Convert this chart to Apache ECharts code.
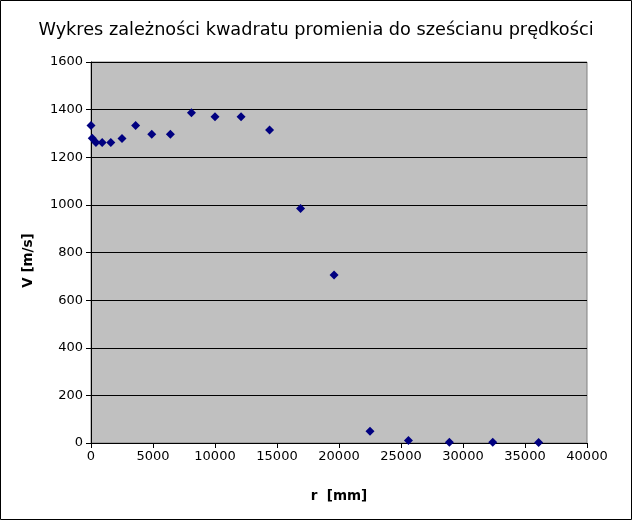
<!DOCTYPE html>
<html>
<head>
<meta charset="utf-8">
<script src="https://cdn.jsdelivr.net/npm/echarts@6/dist/echarts.min.js"></script>
<style>
html,body{margin:0;padding:0;background:#fff;}
#c{width:632px;height:520px;}
</style>
</head>
<body>
<div id="c"></div>
<script>
var titleText = 'Wykres zależności kwadratu promienia do sześcianu prędkości';
var xName = 'r  [mm]';
var yName = 'V [m/s]';
var rSquared = [0, 100, 400, 900, 1600, 2500, 3600, 4900, 6400, 8100, 10000, 12100, 14400, 16900, 19600, 22500, 25600, 28900, 32400, 36100];
var velocity = [1333, 1280, 1262, 1262, 1262, 1279, 1333, 1297, 1297, 1387, 1370, 1370, 1314, 985, 706, 49, 10, 3, 3, 2];

var pts = rSquared.map(function (x, i) { return [x, velocity[i]]; });
function plain(v) { return String(v); }

var chart = echarts.init(document.getElementById('c'), null, {renderer: 'canvas'});
chart.setOption({
  animation: false,
  backgroundColor: '#ffffff',
  title: {
    text: titleText,
    left: 'center',
    top: 16,
    textStyle: {fontFamily: 'DejaVu Sans', fontSize: 17.7, fontWeight: 'normal', color: '#000'}
  },
  grid: {
    left: 91, top: 62, width: 496, height: 381,
    show: true, backgroundColor: '#C0C0C0', borderColor: '#808080', borderWidth: 1,
    containLabel: false
  },
  xAxis: {
    type: 'value', min: 0, max: 40000, interval: 5000,
    name: xName, nameLocation: 'middle', nameGap: 46,
    nameTextStyle: {fontFamily: 'DejaVu Sans', fontSize: 13.5, fontWeight: 'bold', color: '#000'},
    axisLine: {show: true, onZero: false, lineStyle: {color: '#000', width: 1}},
    axisTick: {show: true, inside: false, length: 5, lineStyle: {color: '#000'}},
    axisLabel: {fontFamily: 'DejaVu Sans', fontSize: 13, color: '#000', margin: 7, formatter: plain},
    splitLine: {show: false}
  },
  yAxis: {
    type: 'value', min: 0, max: 1600, interval: 200,
    name: yName, nameLocation: 'middle', nameGap: 56, nameRotate: 90,
    nameTextStyle: {fontFamily: 'DejaVu Sans', fontSize: 13.5, fontWeight: 'bold', color: '#000', padding: [0, 16, 0, 0]},
    axisLine: {show: true, onZero: false, lineStyle: {color: '#000', width: 1}},
    axisTick: {show: true, inside: false, length: 5, lineStyle: {color: '#000'}},
    axisLabel: {fontFamily: 'DejaVu Sans', fontSize: 13, color: '#000', margin: 8, formatter: plain},
    splitLine: {show: true, lineStyle: {color: '#000', width: 1}}
  },
  graphic: [{
    type: 'rect', silent: true, z: 100,
    shape: {x: 0.5, y: 0.5, width: 631, height: 519},
    style: {fill: 'none', stroke: '#000', lineWidth: 1}
  }],
  series: [{
    type: 'scatter',
    data: pts,
    symbol: 'diamond',
    symbolSize: 9,
    itemStyle: {color: '#000080', opacity: 1}
  }]
});
</script>
</body>
</html>
